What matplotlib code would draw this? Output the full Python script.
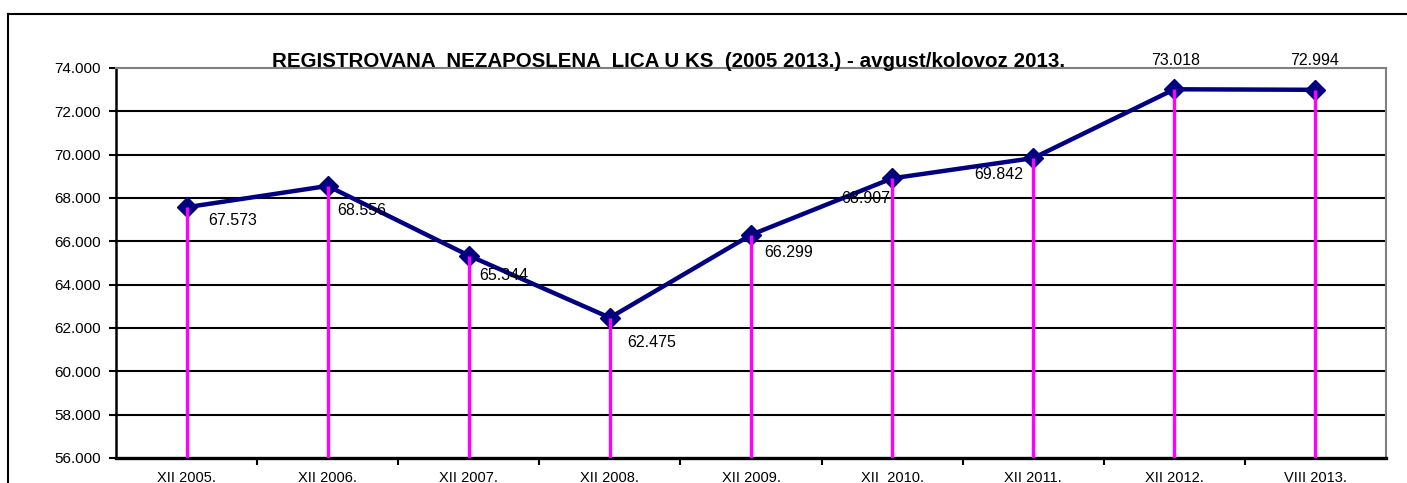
import matplotlib
matplotlib.use("Agg")
import matplotlib.pyplot as plt
from matplotlib.lines import Line2D

categories = ["XII 2005.", "XII 2006.", "XII 2007.", "XII 2008.", "XII 2009.",
              "XII  2010.", "XII 2011.", "XII 2012.", "VIII 2013."]
values = [67573, 68556, 65344, 62475, 66299, 68907, 69842, 73018, 72994]
value_labels = ["67.573", "68.556", "65.344", "62.475", "66.299",
                "68.907", "69.842", "73.018", "72.994"]
yticks = [56000, 58000, 60000, 62000, 64000, 66000, 68000, 70000, 72000, 74000]
ytick_labels = ["56.000", "58.000", "60.000", "62.000", "64.000",
                "66.000", "68.000", "70.000", "72.000", "74.000"]
title = "REGISTROVANA  NEZAPOSLENA  LICA U KS  (2005 2013.) - avgust/kolovoz 2013."

# label offsets in pixels (dx, dy) and horizontal alignment
label_offsets = [(22, -13, "left"), (10, -25, "left"), (10, -20, "left"),
                 (17, -25, "left"), (13, -18, "left"), (-2, -20, "right"),
                 (-10, -16, "right"), (1, 29, "center"), (-1, 29, "center")]

plt.rcParams["font.family"] = ["Liberation Sans", "DejaVu Sans"]

W, H = 1407, 483
fig = plt.figure(figsize=(W / 100, H / 100), dpi=100)
fig.patch.set_facecolor("white")

ax = fig.add_axes([116 / W, 1 - 458 / H, (1386 - 116) / W, (458 - 68) / H])

x = [i + 0.5 for i in range(len(values))]

# gridlines
for yv in yticks[1:-1]:
    ax.axhline(yv, color="black", lw=1.5, zorder=1)

ax.plot(x, values, color="#000080", lw=3.2, marker="D", markersize=10.5,
        markerfacecolor="#000080", markeredgecolor="#000080", zorder=3)
ax.vlines(x, yticks[0], values, color="#FF00FF", lw=2.4, zorder=4)

for xi, v, lab, (dx, dy, ha) in zip(x, values, value_labels, label_offsets):
    ax.annotate(lab, (xi, v), xytext=(dx * 0.72, dy * 0.72),
                textcoords="offset points", ha=ha, va="center",
                fontsize=11.5, color="black", zorder=5, annotation_clip=False)

ax.set_xlim(0, len(values))
ax.set_ylim(yticks[0], yticks[-1])

ax.set_yticks(yticks)
ax.set_yticklabels(ytick_labels, fontsize=11)
ax.tick_params(axis="y", direction="out", length=5, width=1.5, pad=6)

ax.set_xticks(list(range(1, len(values))))
ax.set_xticklabels([])
ax.tick_params(axis="x", which="major", direction="out", length=5, width=1.5)
ax.set_xticks(x, minor=True)
ax.set_xticklabels(categories, minor=True, fontsize=10.5)
ax.tick_params(axis="x", which="minor", length=0, pad=9)

ax.spines["left"].set_color("black")
ax.spines["left"].set_linewidth(1.8)
ax.spines["bottom"].set_color("black")
ax.spines["bottom"].set_linewidth(2.4)
ax.spines["top"].set_color("#808080")
ax.spines["top"].set_linewidth(1.5)
ax.spines["right"].set_color("#808080")
ax.spines["right"].set_linewidth(1.5)

fig.text(669 / W, 1 - 67 / H, title, ha="center", va="baseline",
         fontsize=14.8, fontweight="bold")

# outer frame
fig.add_artist(Line2D([8 / W, 1.0], [1 - 14 / H, 1 - 14 / H],
                      transform=fig.transFigure, color="black", lw=1.5))
fig.add_artist(Line2D([8 / W, 8 / W], [1 - 14 / H, 0.0],
                      transform=fig.transFigure, color="black", lw=1.5))

fig.savefig("out.png", dpi=100)
